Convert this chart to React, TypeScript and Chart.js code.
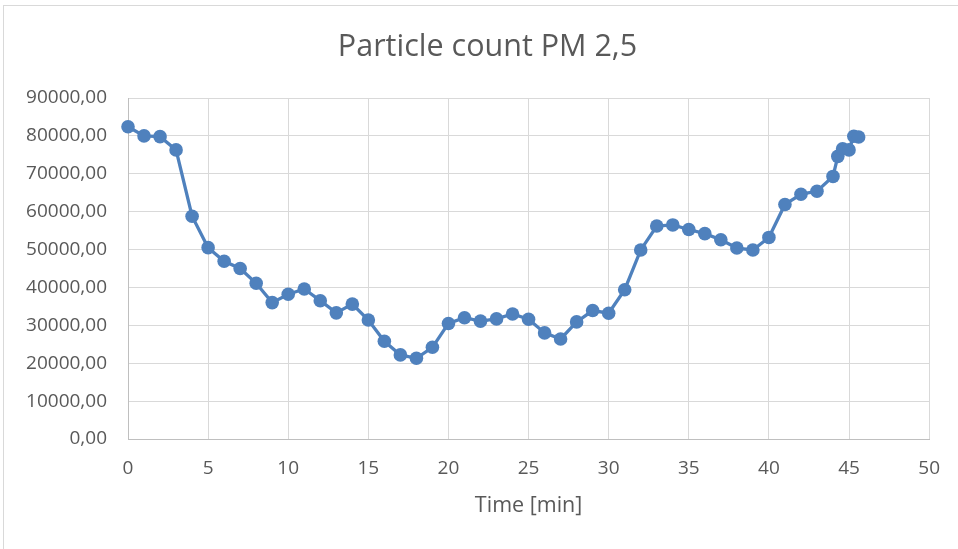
import React, { useEffect, useRef } from "react";
import { Chart, registerables } from "chart.js";

Chart.register(...registerables);

const times: number[] = [
  0, 1, 2, 3, 4, 5, 6, 7, 8, 9, 10, 11, 12, 13, 14, 15, 16, 17, 18, 19, 20,
  21, 22, 23, 24, 25, 26, 27, 28, 29, 30, 31, 32, 33, 34, 35, 36, 37, 38, 39,
  40, 41, 42, 43, 44, 44.3, 44.6, 45.0, 45.3, 45.6,
];
const particleCounts: number[] = [
  82400, 80000, 79800, 76300, 58800, 50500, 46900, 45000, 41100, 36000, 38200,
  39600, 36500, 33300, 35600, 31400, 25800, 22200, 21300, 24200, 30500, 32000,
  31100, 31700, 33000, 31600, 28000, 26400, 30900, 33900, 33200, 39400, 49900,
  56200, 56500, 55300, 54200, 52600, 50400, 49900, 53200, 61900, 64600, 65400,
  69300, 74600, 76600, 76300, 79900, 79700,
];

const chartTitle = "Particle count PM 2,5";
const xAxisTitle = "Time [min]";

const titleShift = {
  id: "titleShift",
  afterLayout(chart: any) {
    const tb = chart.titleBlock;
    if (tb) {
      tb.left += 18;
      tb.right += 18;
    }
  },
};

export default function App() {
  const canvasRef = useRef<HTMLCanvasElement | null>(null);

  useEffect(() => {
    if (!canvasRef.current) return;
    const blue = "rgb(79,129,189)";
    const chart = new Chart(canvasRef.current, {
      type: "line",
      data: {
        datasets: [
          {
            data: times.map((t, i) => ({ x: t, y: particleCounts[i] })),
            borderColor: blue,
            backgroundColor: blue,
            borderWidth: 3.3,
            pointRadius: 6.8,
            pointBorderWidth: 0,
            pointBackgroundColor: blue,
            tension: 0,
            clip: false,
          } as any,
        ],
      },
      plugins: [titleShift],
      options: {
        animation: false,
        responsive: false,
        maintainAspectRatio: false,
        layout: { padding: { left: 0, right: 19, top: 0, bottom: 0 } },
        plugins: {
          legend: { display: false },
          tooltip: { enabled: false },
          title: {
            display: true,
            text: chartTitle,
            color: "#595959",
            font: { family: "'Open Sans'", size: 30.5, weight: "normal", lineHeight: 1.2 },
            padding: { top: 28.7, bottom: 32.7 },
          },
        },
        scales: {
          x: {
            type: "linear",
            min: 0,
            max: 50,
            ticks: {
              stepSize: 5,
              color: "#595959",
              font: { family: "'Open Sans'", size: 19 },
              padding: 18,
              maxRotation: 0,
            },
            grid: { color: "#d9d9d9", lineWidth: 1, drawTicks: false },
            border: { color: "#bfbfbf", width: 1 },
            title: {
              display: true,
              text: xAxisTitle,
              color: "#595959",
              font: { family: "'Open Sans'", size: 21.5 },
              padding: { top: 0, bottom: 30 },
            },
            afterFit: (scale: any) => {
              scale.height = 110;
            },
          },
          y: {
            min: 0,
            max: 90000,
            ticks: {
              stepSize: 10000,
              color: "#595959",
              font: { family: "'Open Sans'", size: 19 },
              padding: 21,
              callback: (v: any) => Number(v).toFixed(2).replace(".", ","),
            },
            grid: { color: "#d9d9d9", lineWidth: 1, drawTicks: false },
            border: { color: "#bfbfbf", width: 1 },
            afterFit: (scale: any) => {
              scale.width = 128;
            },
          },
        },
      },
    });
    return () => chart.destroy();
  }, []);

  return (
    <div style={{ position: "absolute", left: 0, top: 0, width: 958, height: 549, background: "#fff", overflow: "hidden" }}>
      <div
        style={{
          position: "absolute",
          left: 3,
          top: 5,
          width: 1000,
          height: 600,
          border: "1px solid #d9d9d9",
          boxSizing: "border-box",
        }}
      />
      <canvas ref={canvasRef} width={958} height={549} style={{ position: "absolute", left: 0, top: 0 }} />
    </div>
  );
}
